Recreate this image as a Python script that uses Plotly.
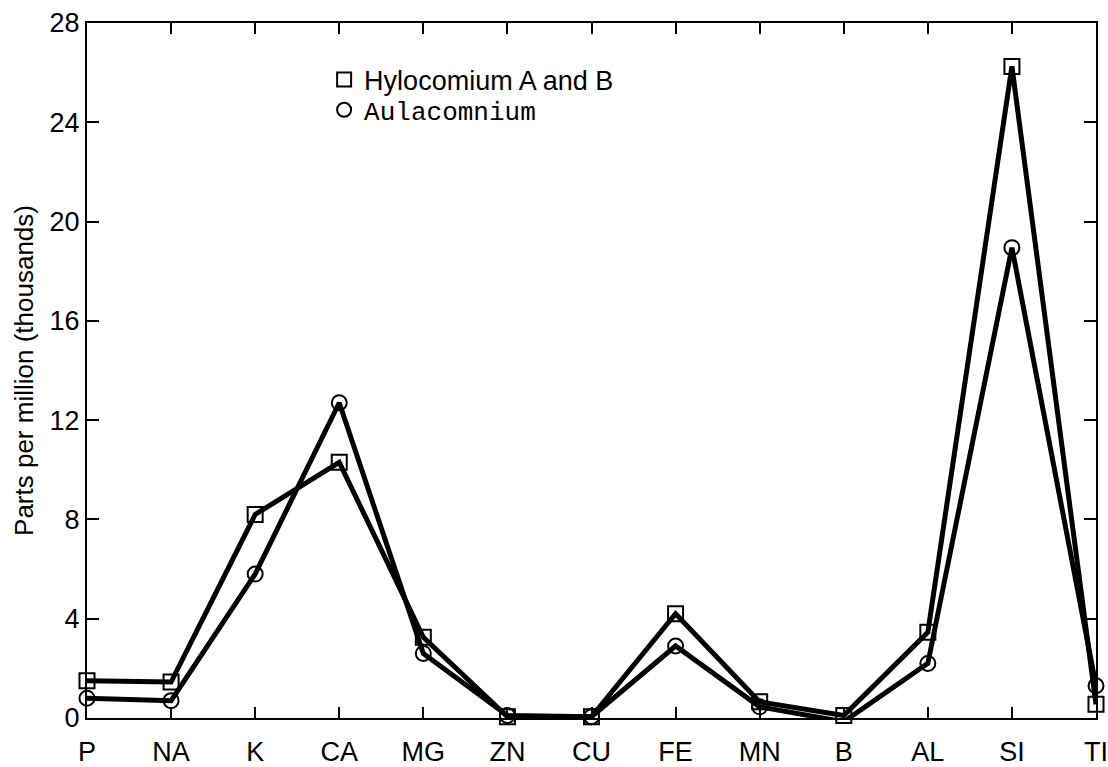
import plotly.graph_objects as go

# Elements analysed, in plotting order along the x axis
elements = ["P", "NA", "K", "CA", "MG", "ZN", "CU", "FE", "MN", "B", "AL", "SI", "TI"]

# Concentrations, parts per million (thousands)
hylocomium = [1.5, 1.45, 8.2, 10.3, 3.25, 0.05, 0.05, 4.2, 0.65, 0.1, 3.45, 26.25, 0.55]
aulacomnium = [0.8, 0.7, 5.8, 12.7, 2.6, 0.1, 0.05, 2.9, 0.45, -0.15, 2.2, 18.95, 1.3]

y_ticks = [0, 4, 8, 12, 16, 20, 24, 28]

SANS = "Liberation Sans, Arial, Helvetica, sans-serif"
MONO = "Liberation Mono, DejaVu Sans Mono, monospace"

x_idx = list(range(len(elements)))

fig = go.Figure()

fig.add_trace(go.Scatter(
    x=x_idx, y=hylocomium, mode="lines+markers", showlegend=False,
    line=dict(color="black", width=5),
    marker=dict(symbol="square-open", size=15, color="black", line=dict(width=2)),
    cliponaxis=False,
))
fig.add_trace(go.Scatter(
    x=x_idx, y=aulacomnium, mode="lines+markers", showlegend=False,
    line=dict(color="black", width=5),
    marker=dict(symbol="circle-open", size=15, color="black", line=dict(width=2)),
    cliponaxis=False,
))

# Legend entries show the marker symbol only; each sits in its own legend
# so the two labels can use different typefaces and spacing.
fig.add_trace(go.Scatter(
    x=[None], y=[None], mode="markers", name="Hylocomium A and B", legend="legend",
    marker=dict(symbol="square-open", size=14, color="black", line=dict(width=2)),
))
fig.add_trace(go.Scatter(
    x=[None], y=[None], mode="markers", name="Aulacomnium", legend="legend2",
    marker=dict(symbol="circle-open", size=14, color="black", line=dict(width=2)),
))

legend_common = dict(
    xanchor="left", yanchor="middle",
    bgcolor="rgba(0,0,0,0)", borderwidth=0, itemwidth=30, tracegroupgap=0,
)

fig.update_layout(
    width=1108, height=767,
    margin=dict(l=87, r=12, t=23, b=49),
    paper_bgcolor="white", plot_bgcolor="white",
    font=dict(family=SANS, size=26, color="black"),
    showlegend=True,
    legend=dict(x=0.235, y=0.918, font=dict(family=SANS, size=27, color="black"), **legend_common),
    legend2=dict(x=0.235, y=0.875, font=dict(family=MONO, size=26, color="black"), **legend_common),
    xaxis=dict(
        range=[0, len(elements) - 1], automargin=False, ticklabeloverflow="allow",
        tickmode="array", tickvals=x_idx, ticktext=elements,
        ticks="inside", ticklen=11, tickwidth=2, tickcolor="black",
        showline=True, linecolor="black", linewidth=2, mirror="allticks",
        showgrid=False, zeroline=False,
        tickfont=dict(size=27), ticklabelstandoff=9,
    ),
    yaxis=dict(
        range=[0, 28], automargin=False, ticklabeloverflow="allow",
        tickmode="array", tickvals=y_ticks,
        ticks="inside", ticklen=12, tickwidth=2, tickcolor="black",
        showline=True, linecolor="black", linewidth=2, mirror="allticks",
        showgrid=False, zeroline=False,
        tickfont=dict(size=27),
        title=dict(text="Parts per million (thousands)", font=dict(size=26), standoff=8),
    ),
)

fig.write_html("out.html")
